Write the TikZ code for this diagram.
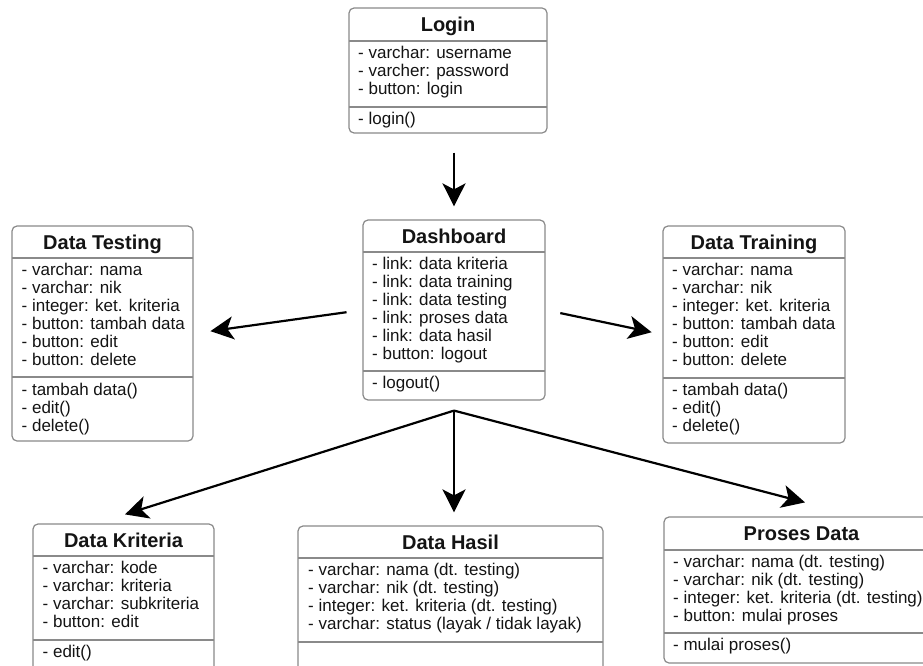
\documentclass[tikz,border=0pt]{standalone}
\usepackage{fontspec}
\setmainfont{Liberation Sans}
\usetikzlibrary{arrows.meta,calc,fit}

\definecolor{boxgray}{HTML}{8A8A8A}
\definecolor{inkblack}{HTML}{141414}

\tikzset{
  umlframe/.style={draw=boxgray, line width=1.2pt, rounded corners=5pt, inner sep=0pt},
  divider/.style={draw=boxgray, line width=1.2pt},
  classtitle/.style={font=\fontsize{20}{22}\selectfont\bfseries, text height=14.3pt,
    text depth=0pt, inner sep=0pt, text=inkblack},
  members/.style={font=\fontsize{17}{18}\selectfont, align=left, anchor=north west,
    inner sep=0pt, text=inkblack},
  link/.style={draw=black, line width=2.2pt,
    -{Stealth[length=23pt,width=23pt,inset=6pt]}},
}

% class frame: name, left, top, right, bottom, first divider, second divider
\newcommand{\umlframe}[7]{%
  \node[umlframe, fit={(#2,#3) (#4,#5)}] (#1) {};
  \draw[divider] (#2,#6) -- (#4,#6);
  \draw[divider] (#2,#7) -- (#4,#7);
}

\begin{document}
\begin{tikzpicture}[x=1pt, y=-1pt]
  \useasboundingbox (0,0) rectangle (923,666);
  \fill[white] (0,0) rectangle (923,666);
  \clip (0,0) rectangle (923,666);

  % Login
  \umlframe{login}{349}{8}{547}{133}{41}{107}
  \node[classtitle] (login-t) at (448,24.5) {Login};
  \node[members] (login-a) at (358,45.6)
    {- varchar: username\\- varcher: password\\- button: login};
  \node[members] (login-m) at (358,111.6) {- login()};

  % Dashboard
  \umlframe{dash}{363}{220}{545}{400}{252}{371}
  \node[classtitle] (dash-t) at (454,236) {Dashboard};
  \node[members] (dash-a) at (372,256.5)
    {- link: data kriteria\\- link: data training\\- link: data testing\\%
     - link: proses data\\- link: data hasil\\- button: logout};
  \node[members] (dash-m) at (372,375.5) {- logout()};

  % Data Testing
  \umlframe{test}{12}{226}{193}{441}{258}{377}
  \node[classtitle] (test-t) at (102.5,242) {Data Testing};
  \node[members] (test-a) at (21.5,262.6)
    {- varchar: nama\\- varchar: nik\\- integer: ket. kriteria\\%
     - button: tambah data\\- button: edit\\- button: delete};
  \node[members] (test-m) at (21.5,382.6)
    {- tambah data()\\- edit()\\- delete()};

  % Data Training
  \umlframe{train}{663}{226}{845}{443}{258}{378}
  \node[classtitle] (train-t) at (754,242) {Data Training};
  \node[members] (train-a) at (672,262.6)
    {- varchar: nama\\- varchar: nik\\- integer: ket. kriteria\\%
     - button: tambah data\\- button: edit\\- button: delete};
  \node[members] (train-m) at (672,382.6)
    {- tambah data()\\- edit()\\- delete()};

  % Data Kriteria
  \umlframe{krit}{33}{524}{214}{690}{556}{640}
  \node[classtitle] (krit-t) at (123.5,540) {Data Kriteria};
  \node[members] (krit-a) at (42.5,560.6)
    {- varchar: kode\\- varchar: kriteria\\- varchar: subkriteria\\- button: edit};
  \node[members] (krit-m) at (42.5,644.6) {- edit()};

  % Data Hasil
  \umlframe{hasil}{298}{526}{603}{690}{558}{642}
  \node[classtitle] (hasil-t) at (450.5,542) {Data Hasil};
  \node[members] (hasil-a) at (308,562.6)
    {- varchar: nama (dt. testing)\\- varchar: nik (dt. testing)\\%
     - integer: ket. kriteria (dt. testing)\\- varchar: status (layak / tidak layak)};

  % Proses Data
  \umlframe{proses}{664}{517}{939}{663}{550}{633}
  \node[classtitle] (proses-t) at (801.5,533.5) {Proses Data};
  \node[members] (proses-a) at (673,554.6)
    {- varchar: nama (dt. testing)\\- varchar: nik (dt. testing)\\%
     - integer: ket. kriteria (dt. testing)\\- button: mulai proses};
  \node[members] (proses-m) at (673,637.6) {- mulai proses()};

  % Navigation arrows
  \draw[link, shorten <=19pt, shorten >=13pt] (login.south -| dash.north) -- (dash.north);
  \draw[link, shorten <=16pt, shorten >=17pt] (dash.west) -- (test.east);
  \draw[link, shorten <=15pt, shorten >=11pt] (dash.east) -- (train.west);

  \coordinate (hub) at ($(dash.south)+(0,10)$);
  \draw[link] (hub) -- ($(krit.north)+(1.5,-9)$);
  \draw[link, shorten >=13pt] (hub) -- (hub |- hasil.north);
  \draw[link] (hub) -- ($(proses.north)+(3.5,-14)$);
\end{tikzpicture}
\end{document}
